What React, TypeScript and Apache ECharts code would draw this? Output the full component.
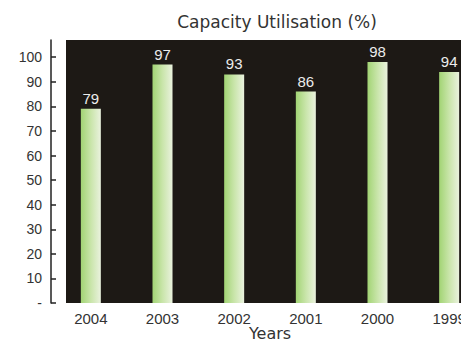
import React, { useEffect, useRef } from "react";
import * as echarts from "echarts";

const categories = ["2004", "2003", "2002", "2001", "2000", "1999"];
const utilisation = [79, 97, 93, 86, 98, 94];
const titleText = "Capacity Utilisation (%)";
const xAxisName = "Years";

export default function App() {
  const ref = useRef<HTMLDivElement>(null);
  useEffect(() => {
    if (!ref.current) return;
    const chart = echarts.init(ref.current, undefined, { renderer: "svg" });
    chart.setOption({
      animation: false,
      title: {
        text: titleText,
        left: 272,
        top: 8,
        textAlign: "center",
        textStyle: {
          fontFamily: "DejaVu Sans",
          fontSize: 17,
          fontWeight: "normal",
          color: "#333",
        },
      },
      graphic: [
        {
          type: "rect",
          z: -10,
          zlevel: 0,
          shape: { x: 66, y: 40, width: 400, height: 263 },
          style: { fill: "#1d1915" },
        },
      ],
      grid: {
        left: 55,
        top: 40,
        width: 430,
        height: 263,
        containLabel: false,
        outerBoundsMode: "none",
      },
      xAxis: {
        type: "category",
        data: categories,
        name: xAxisName,
        nameLocation: "middle",
        nameGap: 22,
        nameMoveOverlap: false,
        nameTextStyle: { fontFamily: "DejaVu Sans", fontSize: 16, color: "#333" },
        axisLine: { show: false },
        axisTick: { show: false },
        axisLabel: {
          margin: 8,
          fontFamily: "Liberation Sans",
          fontSize: 15,
          color: "#333",
        },
      },
      yAxis: {
        type: "value",
        min: 0,
        max: 107,
        interval: 10,
        offset: 4,
        splitLine: { show: false },
        axisLine: { show: true, lineStyle: { color: "#222", width: 1.5 } },
        axisTick: { show: true, inside: true, length: 5, lineStyle: { color: "#222", width: 1.5 } },
        axisLabel: {
          margin: 9,
          fontFamily: "Liberation Sans",
          fontSize: 14,
          color: "#333",
          showMaxLabel: false,
          formatter: (v: number) => (v === 0 ? "-" : String(v)),
        },
      },
      series: [
        {
          type: "bar",
          data: utilisation,
          barWidth: 20,
          z: 5,
          itemStyle: {
            color: new echarts.graphic.LinearGradient(0, 0, 1, 0, [
              { offset: 0, color: "#a2d474" },
              { offset: 0.5, color: "#c9e5aa" },
              { offset: 1, color: "#eaf2de" },
            ]),
          },
          label: {
            show: true,
            position: "top",
            distance: 3,
            fontFamily: "Liberation Sans",
            fontSize: 15,
            color: "#ececec",
          },
        },
      ],
    });
    return () => chart.dispose();
  }, []);
  return (
    <div
      ref={ref}
      style={{ position: "fixed", left: 0, top: 0, width: 461, height: 342, background: "#fff" }}
    />
  );
}
